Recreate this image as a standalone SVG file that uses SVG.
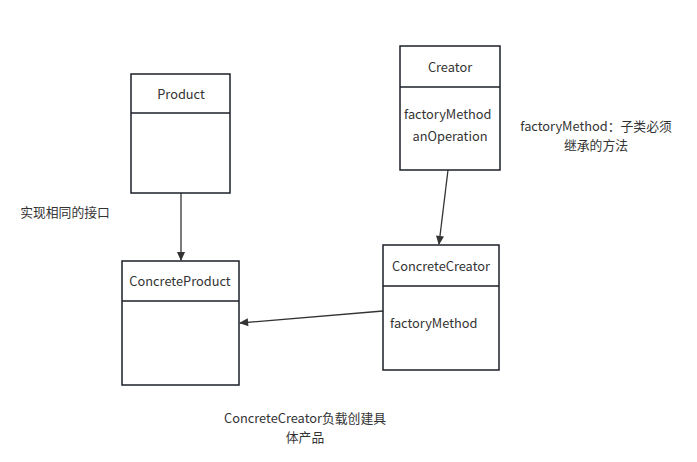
<svg xmlns="http://www.w3.org/2000/svg" width="697" height="462" viewBox="0 0 697 462">
<style>
.box{fill:#fff;stroke:#1b2129;stroke-width:1.5}
.t{font-family:"Noto Sans CJK SC","Noto Sans",sans-serif;font-size:12.8px;fill:#333}
.c{text-anchor:middle}
.edge{stroke:#333;stroke-width:1.3;fill:none}
</style>
<defs>
<marker id="ah" viewBox="0 0 10 10" refX="9" refY="5" markerWidth="11" markerHeight="9" orient="auto" markerUnits="userSpaceOnUse">
<path d="M0,0.5 L10,5 L0,9.5 Z" fill="#333"/>
</marker>
</defs>
<rect width="697" height="462" fill="#fff"/>
<g id="connectors">
<line class="edge" x1="181" y1="193" x2="181" y2="260" marker-end="url(#ah)"/>
<line class="edge" x1="448" y1="170" x2="439" y2="244" marker-end="url(#ah)"/>
<line class="edge" x1="383" y1="311" x2="240" y2="323" marker-end="url(#ah)"/>
</g>
<g id="product">
<rect class="box" x="131" y="74" width="99" height="119"/>
<line class="box" x1="131" y1="113" x2="230" y2="113"/>
<text class="t c" x="181" y="99">Product</text>
</g>
<g id="creator">
<rect class="box" x="400" y="46" width="100" height="124"/>
<line class="box" x1="400" y1="87" x2="500" y2="87"/>
<text class="t c" x="450" y="72">Creator</text>
<text class="t" x="404" y="119">factoryMethod</text>
<text class="t c" x="450" y="141">anOperation</text>
</g>
<g id="concreteProduct">
<rect class="box" x="122" y="261" width="117" height="124"/>
<line class="box" x1="122" y1="301" x2="239" y2="301"/>
<text class="t c" x="180" y="286">ConcreteProduct</text>
</g>
<g id="concreteCreator">
<rect class="box" x="383" y="245" width="116" height="125"/>
<line class="box" x1="383" y1="286" x2="499" y2="286"/>
<text class="t c" x="441" y="271">ConcreteCreator</text>
<text class="t" x="390" y="328">factoryMethod</text>
</g>
<g id="labels">
<text class="t c" x="596" y="131">factoryMethod：子类必须</text>
<text class="t c" x="596" y="150">继承的方法</text>
<text class="t c" x="65" y="217">实现相同的接口</text>
<text class="t c" x="305" y="423">ConcreteCreator负载创建具</text>
<text class="t c" x="305" y="442">体产品</text>
</g>
</svg>
